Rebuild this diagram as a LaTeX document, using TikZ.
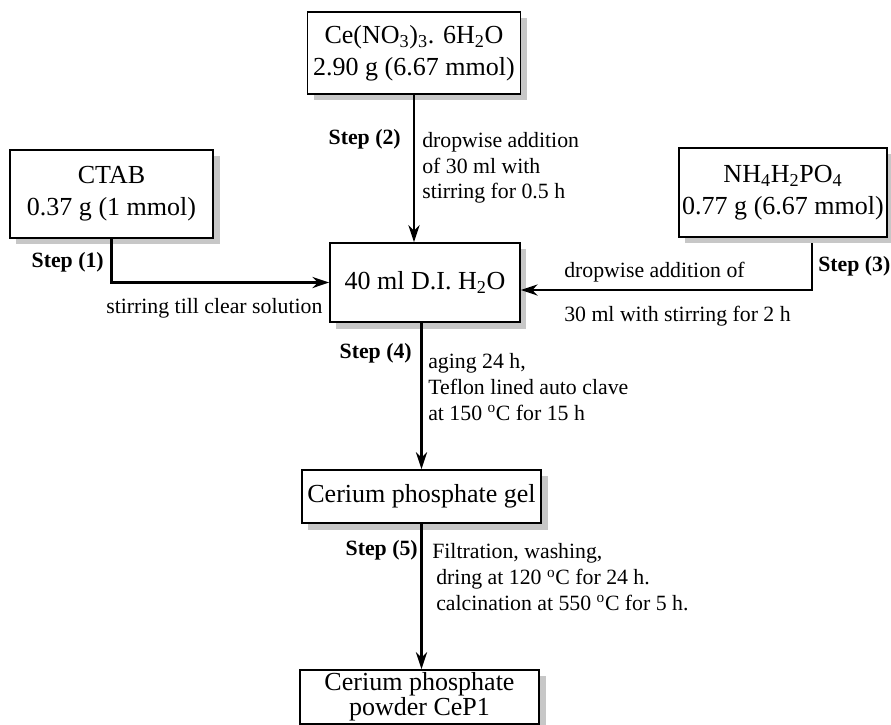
\documentclass[tikz,border=0pt]{standalone}
\usepackage{fontspec}
\setmainfont{Liberation Serif}
\usetikzlibrary{arrows.meta, positioning, shadows}

\begin{document}
\begin{tikzpicture}[
  x=0.025cm, y=-0.025cm,
  %%── Styles ───────────────────────────────────────────────────────────────
  chembox/.style={
    draw=black, fill=white, line width=1.2pt, inner sep=2pt,
    align=center, font=\fontsize{18.5}{22.5}\selectfont,
    drop shadow={shadow xshift=0.16cm, shadow yshift=-0.16cm,
                 fill=black!22, opacity=1}
  },
  notetext/.style={
    align=left, inner sep=0pt, anchor=west,
    font=\fontsize{15.5}{18.2}\selectfont
  },
  steplabel/.style={
    inner sep=0pt, font=\fontsize{15.5}{18}\selectfont\bfseries
  },
  flowarrow/.style={draw=black, line width=1.5pt,
    -{Stealth[length=12pt, width=8pt]}},
]
\useasboundingbox (0,0) rectangle (891,724);

%%── Starting materials ──────────────────────────────────────────────────
\node[chembox, minimum width=5.33cm, minimum height=2.05cm] (cenitrate)
    at (414, 53) {Ce(NO\textsubscript{3})\textsubscript{3}. 6H\textsubscript{2}O\\
                  2.90 g (6.67 mmol)};
\node[chembox, minimum width=5.08cm, minimum height=2.2cm] (ctab)
    at (111.5, 194) {CTAB\\ 0.37 g (1 mmol)};
\node[chembox, minimum width=5.2cm, minimum height=2.22cm] (nhphos)
    at (783, 192.5) {NH\textsubscript{4}H\textsubscript{2}PO\textsubscript{4}\\
                     0.77 g (6.67 mmol)};

%%── Solvent, gel and product ────────────────────────────────────────────
\node[chembox, minimum width=4.75cm, minimum height=1.98cm] (water)
    at (425, 282.5) {40 ml D.I. H\textsubscript{2}O};
\node[chembox, minimum width=5.98cm, minimum height=1.33cm] (gel)
    at (421.5, 496.5) {Cerium phosphate gel};
\node[chembox, minimum width=5.98cm, minimum height=1.3cm,
      font=\fontsize{18.5}{17.8}\selectfont] (powder)
    at (419.5, 697) {Cerium phosphate\\ powder CeP1};

%%── Step (1) ────────────────────────────────────────────────────────────
\draw[flowarrow] (ctab.south) |- (water.west);
\node[steplabel, anchor=east] (step1) at (104, 262) {Step (1)};
\node[notetext] (note1) at (106, 308) {stirring till clear solution};

%%── Step (2) ────────────────────────────────────────────────────────────
\draw[flowarrow] (cenitrate.south) -- (cenitrate.south |- water.north);
\node[steplabel, anchor=east] (step2) at (401, 139) {Step (2)};
\node[notetext] (note2) at (422, 168)
    {dropwise addition\\ of 30 ml with\\ stirring for 0.5 h};

%%── Step (3) ────────────────────────────────────────────────────────────
\coordinate (nhfoot) at (812, 243);
\coordinate (nhturn) at (812, 290);
\draw[flowarrow] (nhfoot) -- (nhturn) -- (nhturn -| water.east);
\node[steplabel, anchor=west] (step3) at (818, 266) {Step (3)};
\node[notetext] (note3a) at (564, 272) {dropwise addition of};
\node[notetext] (note3b) at (564, 316) {30 ml with stirring for 2 h};

%%── Step (4) ────────────────────────────────────────────────────────────
\draw[flowarrow] (gel.north |- water.south) -- (gel.north);
\node[steplabel, anchor=east] (step4) at (412, 353) {Step (4)};
\node[notetext] (note4) at (428, 387)
    {aging 24 h,\\ Teflon lined auto clave\\
     at 150 \textsuperscript{o}C for 15 h};

%%── Step (5) ────────────────────────────────────────────────────────────
\draw[flowarrow] (gel.south) -- (gel.south |- powder.north);
\node[steplabel, anchor=east] (step5) at (418, 550) {Step (5)};
\node[notetext] (note5) at (432, 577)
    {Filtration, washing,\\
     \hspace*{0.1cm}dring at 120 \textsuperscript{o}C for 24 h.\\
     \hspace*{0.1cm}calcination at 550 \textsuperscript{o}C for 5 h.};

\end{tikzpicture}
\end{document}
